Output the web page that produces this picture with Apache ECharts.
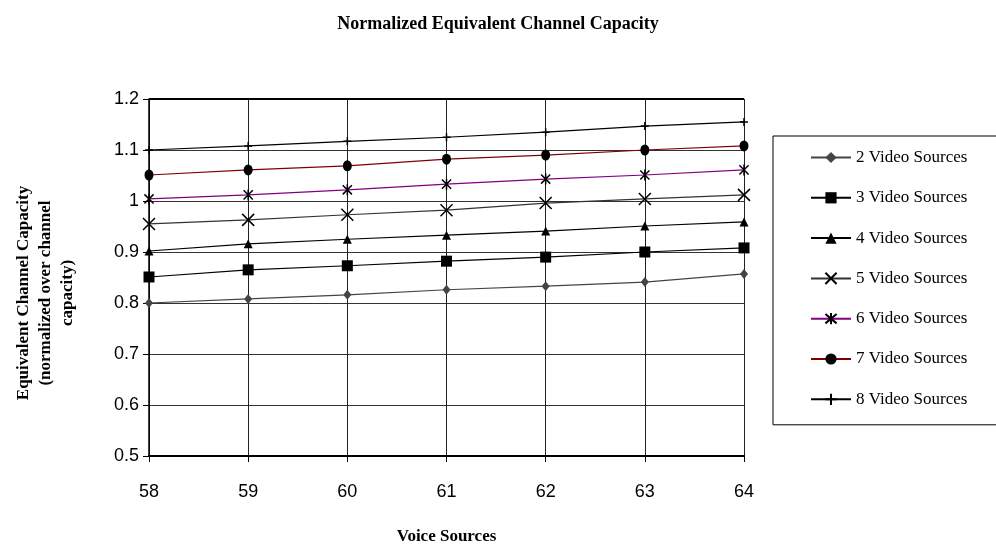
<!DOCTYPE html>
<html>
<head>
<meta charset="utf-8">
<script src="https://cdn.jsdelivr.net/npm/echarts@6/dist/echarts.min.js"></script>
<style>
	html, body { margin: 0; padding: 0; background: #fff; }
	#chart { width: 996px; height: 550px; }
</style>
</head>
<body>
<div id="chart"></div>
<script>
// 数据
var voiceSources = ['58', '59', '60', '61', '62', '63', '64'];
var video2 = [0.800, 0.808, 0.816, 0.826, 0.833, 0.841, 0.857];
var video3 = [0.851, 0.865, 0.873, 0.882, 0.890, 0.900, 0.908];
var video4 = [0.902, 0.916, 0.925, 0.933, 0.941, 0.951, 0.959];
var video5 = [0.955, 0.963, 0.973, 0.982, 0.996, 1.004, 1.012];
var video6 = [1.004, 1.012, 1.022, 1.033, 1.043, 1.051, 1.061];
var video7 = [1.051, 1.061, 1.069, 1.082, 1.090, 1.100, 1.108];
var video8 = [1.100, 1.108, 1.117, 1.125, 1.135, 1.147, 1.155];
var yTicks = [0.5, 0.6, 0.7, 0.8, 0.9, 1.0, 1.1, 1.2];

var serif = 'Liberation Serif, Times New Roman, serif';
var sans = 'Liberation Sans Narrow, Liberation Sans, Arial, sans-serif';

// 自定义标记
var xMark = 'path://M0,0L10,10M10,0L0,10';
var starMark = 'path://M0,0L10,10M10,0L0,10M5,-1L5,11';
var plusMark = 'path://M5,0L5,10M0,5L10,5';

function line(name, data, lineColor, symbol, size, fill, stroke) {
	return {
		name: name,
		type: 'line',
		data: data,
		symbol: symbol,
		symbolSize: size,
		symbolKeepAspect: true,
		showSymbol: true,
		lineStyle: { color: lineColor, width: 1.2 },
		itemStyle: {
			color: fill,
			borderColor: stroke || fill,
			borderWidth: stroke ? 1.5 : 0
		},
		emphasis: { disabled: true },
		z: 3
	};
}

var chart = echarts.init(document.getElementById('chart'));
var option = {
	animation: false,
	title: {
		text: 'Normalized Equivalent Channel Capacity',
		left: 'center',
		top: 10,
		textStyle: {
			fontFamily: serif,
			fontWeight: 'bold',
			fontSize: 18,
			color: '#000'
		}
	},
	legend: {
		orient: 'vertical',
		left: 773,
		top: 136,
		padding: [13, 30, 17, 37],
		itemWidth: 40,
		itemHeight: 14,
		itemGap: 23.3,
		borderColor: '#000',
		borderWidth: 1,
		textStyle: { fontFamily: serif, fontSize: 17, color: '#000' },
		data: ['2 Video Sources', '3 Video Sources', '4 Video Sources', '5 Video Sources',
			'6 Video Sources', '7 Video Sources', '8 Video Sources']
	},
	grid: { left: 149, right: 252, top: 99, bottom: 93 },
	xAxis: {
		type: 'category',
		data: voiceSources,
		boundaryGap: false,
		name: 'Voice Sources',
		nameLocation: 'middle',
		nameGap: 72,
		nameTextStyle: { fontFamily: serif, fontWeight: 'bold', fontSize: 17, color: '#000' },
		axisLine: { lineStyle: { color: '#000', width: 2 } },
		axisTick: { show: true, length: 6, lineStyle: { color: '#000' } },
		axisLabel: { fontFamily: sans, fontSize: 18, color: '#000', margin: 27 },
		splitLine: { show: true, lineStyle: { color: '#222', width: 1 } }
	},
	yAxis: {
		type: 'value',
		min: 0.5,
		max: 1.2,
		interval: 0.1,
		axisLine: { show: true, lineStyle: { color: '#000', width: 1.5 } },
		axisTick: { show: true, length: 6, lineStyle: { color: '#000' } },
		axisLabel: {
			fontFamily: sans, fontSize: 18, color: '#000', margin: 10,
			formatter: function(v) {
				var t = yTicks.filter(function(x) { return Math.abs(x - v) < 1e-6; })[0];
				return t === undefined ? '' : String(+t.toFixed(1));
			}
		},
		splitLine: { show: true, lineStyle: { color: '#333', width: 1 } }
	},
	graphic: [{
		type: 'rect',
		shape: { x: 149, y: 98, width: 595, height: 2 },
		style: { fill: '#000' },
		z: 2
	}, {
		type: 'text',
		x: 46,
		y: 293,
		rotation: Math.PI / 2,
		style: {
			text: 'Equivalent Channel Capacity\n(normalized over channel\ncapacity)',
			font: 'bold 17px ' + serif,
			fill: '#000',
			align: 'center',
			verticalAlign: 'middle',
			lineHeight: 22
		}
	}],
	series: [
		line('2 Video Sources', video2, '#444', 'diamond', [8, 10], '#444'),
		line('3 Video Sources', video3, '#000', 'rect', 11, '#000'),
		line('4 Video Sources', video4, '#000', 'triangle', 9, '#000'),
		line('5 Video Sources', video5, '#333', xMark, 12, 'none', '#000'),
		line('6 Video Sources', video6, '#800080', starMark, 11, 'none', '#000'),
		line('7 Video Sources', video7, '#800000', 'circle', [9, 11], '#000'),
		line('8 Video Sources', video8, '#000', plusMark, 8, 'none', '#000')
	]
};

chart.setOption(option);
window.onresize = chart.resize;
</script>
</body>
</html>
